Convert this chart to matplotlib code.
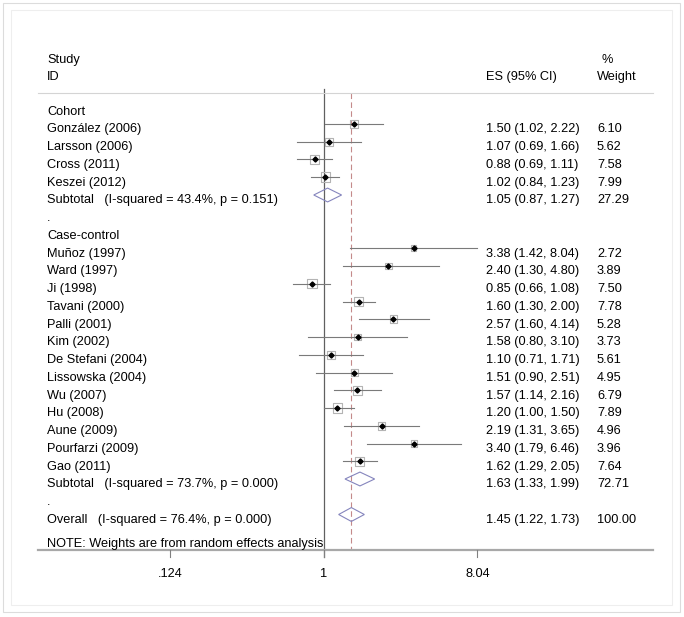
import numpy as np
import matplotlib.pyplot as plt
from matplotlib.patches import Polygon, Rectangle

plt.rcParams['font.family'] = ['Liberation Sans', 'DejaVu Sans']

# ---- data ----
cohort_names = ["González (2006)", "Larsson (2006)", "Cross (2011)", "Keszei (2012)"]
cohort_es = [1.50, 1.07, 0.88, 1.02]
cohort_lo = [1.02, 0.69, 0.69, 0.84]
cohort_hi = [2.22, 1.66, 1.11, 1.23]
cohort_w = [6.10, 5.62, 7.58, 7.99]
cohort_sub = (1.05, 0.87, 1.27, 27.29)
cohort_het = "(I-squared = 43.4%, p = 0.151)"

cc_names = ["Muñoz (1997)", "Ward (1997)", "Ji (1998)", "Tavani (2000)", "Palli (2001)",
            "Kim (2002)", "De Stefani (2004)", "Lissowska (2004)", "Wu (2007)", "Hu (2008)",
            "Aune (2009)", "Pourfarzi (2009)", "Gao (2011)"]
cc_es = [3.38, 2.40, 0.85, 1.60, 2.57, 1.58, 1.10, 1.51, 1.57, 1.20, 2.19, 3.40, 1.62]
cc_lo = [1.42, 1.30, 0.66, 1.30, 1.60, 0.80, 0.71, 0.90, 1.14, 1.00, 1.31, 1.79, 1.29]
cc_hi = [8.04, 4.80, 1.08, 2.00, 4.14, 3.10, 1.71, 2.51, 2.16, 1.50, 3.65, 6.46, 2.05]
cc_w = [2.72, 3.89, 7.50, 7.78, 5.28, 3.73, 5.61, 4.95, 6.79, 7.89, 4.96, 3.96, 7.64]
cc_sub = (1.63, 1.33, 1.99, 72.71)
cc_het = "(I-squared = 73.7%, p = 0.000)"

overall = (1.45, 1.22, 1.73, 100.00)
overall_het = "(I-squared = 76.4%, p = 0.000)"

xticks = [0.124, 1, 8.04]
xtick_labels = [".124", "1", "8.04"]


def es_text(es, lo, hi):
    return f"{es:.2f} ({lo:.2f}, {hi:.2f})"


def main():
    W, H = 684, 617
    fig = plt.figure(figsize=(W / 100, H / 100), dpi=100)
    ax = fig.add_axes([0, 0, 1, 1])
    ax.set_xscale('log')
    px_per_ln = 73.6
    x_null = 324
    ax.set_xlim(np.exp(-x_null / px_per_ln), np.exp((W - x_null) / px_per_ln))
    row_px, row0 = 17.75, 124
    ax.set_ylim((H - row0) / row_px, -row0 / row_px)
    ax.set_axis_off()

    # frames
    fig.patches.append(Rectangle((3 / W, 5 / H), 677 / W, 609 / H, transform=fig.transFigure,
                                 fill=False, ec='#dcdcdc', lw=0.8))
    fig.patches.append(Rectangle((11 / W, 12 / H), 661 / W, 595 / H, transform=fig.transFigure,
                                 fill=False, ec='#eeeeee', lw=0.8))

    fs = 9.2
    tdy = 0.3
    xt = ax.get_yaxis_transform()  # x in axes fraction, y in data
    col_id, col_es, col_w = 47 / W, 486 / W, 597 / W
    left, right = 38 / W, 653 / W

    # header
    ax.text(col_id, -3.6, "Study", transform=xt, fontsize=fs, va='center')
    ax.text(col_id, -2.65, "ID", transform=xt, fontsize=fs, va='center')
    ax.text(col_es, -2.65, "ES (95% CI)", transform=xt, fontsize=fs, va='center')
    ax.text(col_w + 0.006, -3.6, "%", transform=xt, fontsize=fs, va='center')
    ax.text(col_w, -2.65, "Weight", transform=xt, fontsize=fs, va='center')
    ax.plot([left, right], [-1.75, -1.75], transform=xt, color='#d4d4d4', lw=0.8)

    axis_row = 24.0
    # null line and overall line
    ax.plot([1, 1], [-1.95, axis_row + 0.4], color='#606060', lw=0.9, zorder=1)
    ax.plot([overall[0]] * 2, [-1.75, axis_row], color='#c48a8a', lw=0.8,
            dashes=(5, 3), zorder=1)

    def study_rows(names, es, lo, hi, w, start):
        for i, (n, e, l, h, wt) in enumerate(zip(names, es, lo, hi, w)):
            r = start + i
            side = 3.38 * np.sqrt(wt) * 0.72
            ax.scatter([e], [r], marker='s', s=side ** 2, facecolor='none',
                       edgecolor='#b4b4b4', lw=0.8, zorder=2)
            ax.plot([l, h], [r, r], color='#7a7a7a', lw=0.8, zorder=3)
            ax.plot([e], [r], marker='D', ms=2.6, color='black', zorder=4)
            ax.text(col_id, r + tdy, n, transform=xt, fontsize=fs, va='center')
            ax.text(col_es, r + tdy, es_text(e, l, h), transform=xt, fontsize=fs, va='center')
            ax.text(col_w, r + tdy, f"{wt:.2f}", transform=xt, fontsize=fs, va='center')

    def diamond(vals, r, label):
        e, l, h, wt = vals
        d = 0.39
        ax.add_patch(Polygon([(l, r), (e, r - d), (h, r), (e, r + d)], closed=True,
                             fill=False, ec='#8585bd', lw=0.8, zorder=3))
        ax.text(col_id, r + tdy, label, transform=xt, fontsize=fs, va='center')
        ax.text(col_es, r + tdy, es_text(e, l, h), transform=xt, fontsize=fs, va='center')
        ax.text(col_w, r + tdy, f"{wt:.2f}", transform=xt, fontsize=fs, va='center')

    ax.text(col_id, -1 + tdy, "Cohort", transform=xt, fontsize=fs, va='center')
    study_rows(cohort_names, cohort_es, cohort_lo, cohort_hi, cohort_w, 0)
    n1 = len(cohort_names)
    diamond(cohort_sub, n1, "Subtotal   " + cohort_het)
    ax.text(col_id, n1 + 1 + tdy, ".", transform=xt, fontsize=fs, va='center')

    ax.text(col_id, n1 + 2 + tdy, "Case-control", transform=xt, fontsize=fs, va='center')
    study_rows(cc_names, cc_es, cc_lo, cc_hi, cc_w, n1 + 3)
    n2 = n1 + 3 + len(cc_names)
    diamond(cc_sub, n2, "Subtotal   " + cc_het)
    ax.text(col_id, n2 + 1 + tdy, ".", transform=xt, fontsize=fs, va='center')
    diamond(overall, n2 + 2, "Overall   " + overall_het)

    # x axis
    ax.plot([left, right], [axis_row, axis_row], transform=xt, color='#a8a8a8', lw=1.6, zorder=1)
    for t, lab in zip(xticks, xtick_labels):
        ax.plot([t, t], [axis_row, axis_row + 0.4], color='#808080', lw=0.8)
        ax.text(t, axis_row + 1.35, lab, fontsize=fs, ha='center', va='center')
    ax.text(col_id, axis_row - 0.35, "NOTE: Weights are from random effects analysis",
            transform=xt, fontsize=fs, va='center')

    fig.savefig("out.png", dpi=100)


if __name__ == "__main__":
    main()
